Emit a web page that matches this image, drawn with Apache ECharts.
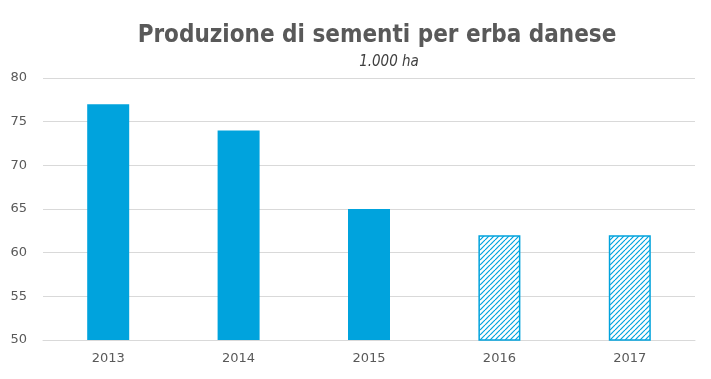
<!DOCTYPE html>
<html><head><meta charset="utf-8">
<script src="https://cdn.jsdelivr.net/npm/echarts@6/dist/echarts.min.js"></script>
<style>html,body{margin:0;padding:0;background:#fff}#c{width:711px;height:379px}</style>
</head><body><div id="c"></div>
<script>
const categories = ['2013','2014','2015','2016','2017'];
const values = [77, 74, 65, 62, 62];
const estimated = [false, false, false, true, true];
const yTicks = {min: 50, max: 80, interval: 5};

const blue = '#00A3DD';
const pc = document.createElement('canvas');
pc.width = 5; pc.height = 5;
const ctx = pc.getContext('2d');
ctx.fillStyle = '#fff'; ctx.fillRect(0,0,5,5);
ctx.strokeStyle = blue; ctx.lineWidth = 1.2;
for (let k = -5; k <= 10; k += 5) {
  ctx.beginPath(); ctx.moveTo(k, 5); ctx.lineTo(k + 5, 0); ctx.stroke();
}

const data = values.map((v, i) => estimated[i]
  ? {value: v, itemStyle: {color: {image: pc, repeat: 'repeat'}, borderColor: blue, borderWidth: 1.5}}
  : {value: v, itemStyle: {color: blue}});

const chart = echarts.init(document.getElementById('c'));
chart.setOption({
  animation: false,
  title: [{
    text: 'Produzione di sementi per erba danese',
    left: 372, textAlign: 'center', top: 19,
    textStyle: {fontFamily: 'DejaVu Sans Condensed', fontWeight: 'bold', fontSize: 24, color: '#595959'}
  }, {
    text: '1.000 ha',
    left: 384, textAlign: 'center', top: 50,
    textStyle: {fontFamily: 'DejaVu Sans Condensed', fontStyle: 'italic', fontWeight: 'normal', fontSize: 15, color: '#404040'}
  }],
  grid: {left: 43, right: 16, top: 78, bottom: 39},
  xAxis: {
    type: 'category', data: categories,
    axisLine: {lineStyle: {color: '#d9d9d9', width: 1}},
    axisTick: {show: false},
    axisLabel: {color: '#595959', fontSize: 13, fontFamily: 'DejaVu Sans', margin: 12}
  },
  yAxis: {
    type: 'value', min: yTicks.min, max: yTicks.max, interval: yTicks.interval,
    axisLabel: {color: '#595959', fontSize: 13, fontFamily: 'DejaVu Sans', margin: 16},
    splitLine: {lineStyle: {color: '#d9d9d9', width: 1}}
  },
  series: [{type: 'bar', data: data, barWidth: 42}]
});
</script></body></html>
